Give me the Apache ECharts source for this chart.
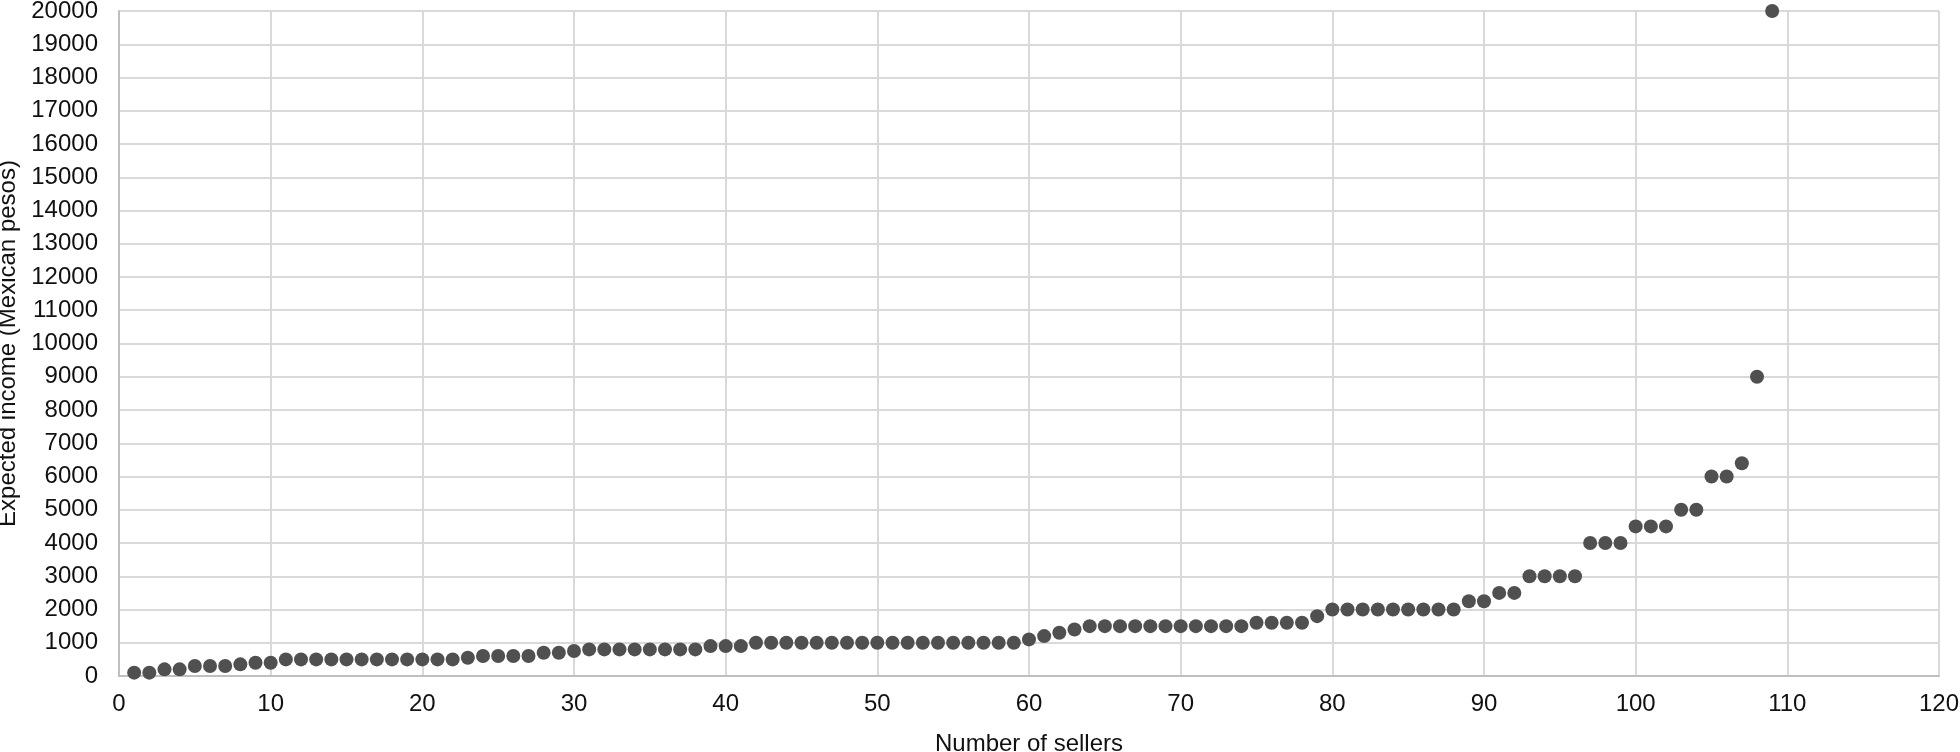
<!DOCTYPE html>
<html>
<head>
<meta charset="utf-8">
<script src="https://cdn.jsdelivr.net/npm/echarts@6/dist/echarts.min.js"></script>
<style>
  html, body { margin: 0; padding: 0; background: #fff; }
  #chart { width: 1960px; height: 752px; }
</style>
</head>
<body>
<div id="chart"></div>
<script>
// expected income per seller, sorted ascending (seller 1..109)
const incomes = [
  100, 100, 200, 200, 300, 300, 300, 350, 400, 400,
  500, 500, 500, 500, 500, 500, 500, 500, 500, 500, 500, 500,
  550, 600, 600, 600, 600, 700, 700, 750,
  800, 800, 800, 800, 800, 800, 800, 800,
  900, 900, 900,
  1000, 1000, 1000, 1000, 1000, 1000, 1000, 1000, 1000,
  1000, 1000, 1000, 1000, 1000, 1000, 1000, 1000, 1000,
  1100, 1200, 1300, 1400,
  1500, 1500, 1500, 1500, 1500, 1500, 1500, 1500, 1500, 1500, 1500,
  1600, 1600, 1600, 1600, 1800,
  2000, 2000, 2000, 2000, 2000, 2000, 2000, 2000, 2000,
  2250, 2250, 2500, 2500,
  3000, 3000, 3000, 3000,
  4000, 4000, 4000, 4500, 4500, 4500,
  5000, 5000, 6000, 6000, 6400, 9000, 20000
]

const chart = echarts.init(document.getElementById('chart'))
const font = 'Liberation Sans, Arial, sans-serif'
const textColor = '#111'
const gridColor = '#d9d9d9'

chart.setOption({
  animation: false,
  grid: {
    left: 119, right: 21, top: 11, bottom: 76,
    containLabel: false, outerBoundsMode: 'none',
  },
  xAxis: {
    type: 'value',
    min: 0,
    max: 120,
    interval: 10,
    name: 'Number of sellers',
    nameLocation: 'middle',
    nameGap: 56,
    nameTextStyle: { fontFamily: font, fontSize: 24, color: textColor },
    axisLine: { show: true, lineStyle: { color: '#bfbfbf', width: 2 } },
    axisTick: { show: false },
    axisLabel: { fontFamily: font, fontSize: 24, color: textColor, margin: 16 },
    splitLine: { show: true, lineStyle: { color: gridColor, width: 2 } },
  },
  yAxis: {
    type: 'value',
    min: 0,
    max: 20000,
    interval: 1000,
    name: 'Expected income (Mexican pesos)',
    nameLocation: 'middle',
    nameGap: 90,
    nameTextStyle: { fontFamily: font, fontSize: 24, color: textColor },
    axisLine: { show: true, lineStyle: { color: '#bfbfbf', width: 2 } },
    axisTick: { show: false },
    axisLabel: {
      fontFamily: font, fontSize: 24, color: textColor, margin: 21,
      formatter: (v) => String(v),
    },
    splitLine: { show: true, lineStyle: { color: gridColor, width: 2 } },
  },
  series: [
    {
      type: 'scatter',
      symbol: 'circle',
      symbolSize: 14,
      itemStyle: { color: '#505050', opacity: 1 },
      data: incomes.map((v, i) => [i + 1, v]),
    },
  ],
})
</script>
</body>
</html>
